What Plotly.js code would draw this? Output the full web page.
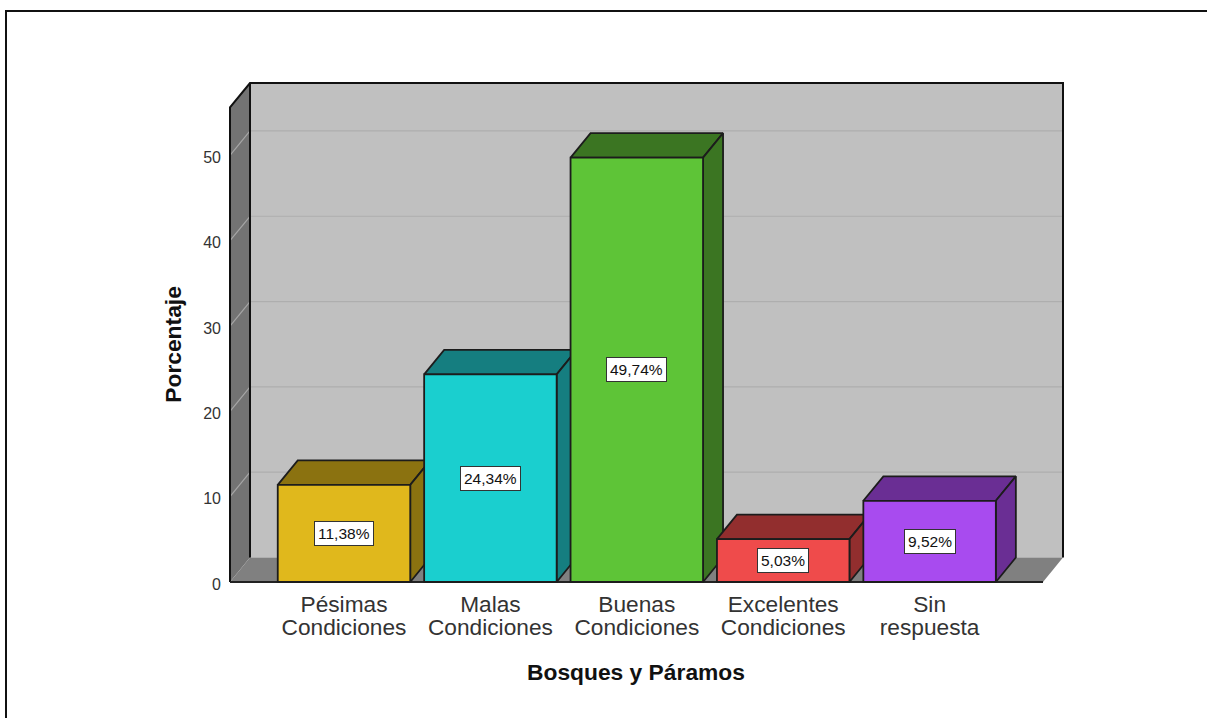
<!DOCTYPE html>
<html>
<head>
<meta charset="utf-8">
<script src="https://cdn.plot.ly/plotly-3.0.1.min.js"></script>
<style>
html,body{margin:0;padding:0;background:#fff;overflow:hidden}
#frame{position:absolute;left:5px;top:10px;right:0;bottom:0;border-top:2px solid #111;border-left:2px solid #111}
#chart{position:absolute;left:0;top:0;width:1207px;height:718px}
</style>
</head>
<body>
<div id="frame"></div>
<div id="chart"></div>
<script>
const categories = ['Pésimas<br>Condiciones', 'Malas<br>Condiciones', 'Buenas<br>Condiciones', 'Excelentes<br>Condiciones', 'Sin<br>respuesta'];
const percentages = [11.38, 24.34, 49.74, 5.03, 9.52];
const percentLabels = ['11,38%', '24,34%', '49,74%', '5,03%', '9,52%'];
const yTicks = [0, 10, 20, 30, 40, 50];
const frontColors = ['#E0B81C', '#1ACFCF', '#5EC437', '#EF4B4B', '#A84BEF'];
const faceColors = ['#8B7210', '#157E80', '#3B7522', '#922E2E', '#6A2E94'];
const xTitle = 'Bosques y Páramos';
const yTitle = 'Porcentaje';

const W = 1207, H = 718;
const L = 230, R = 1063, T = 83, B = 582.5;   // chart box drawn
const pad = 3;                                 // room so that edge lines are not clipped
const pL = L - pad, pR = R + pad, pT = T - pad, pB = B + pad;
const pxPerUnit = 8.54, pxPerCat = 146.4, firstCenter = 344;
const dx = 20 / pxPerCat, dy = 24.5 / pxPerUnit;
const xMin = (L - firstCenter) / pxPerCat, xMax = (R - firstCenter) / pxPerCat;
const yMax = (B - T) / pxPerUnit;
const xRange = [(pL - firstCenter) / pxPerCat, (pR - firstCenter) / pxPerCat];
const yRange = [(B - pB) / pxPerUnit, (B - pT) / pxPerUnit];
const barW = 0.905;
const edge = '#1c1c1c';
const font = 'Liberation Sans';

function poly(xs, ys, fill, lineColor, lineWidth) {
  return {type: 'scatter', mode: 'lines', x: xs.concat(xs[0]), y: ys.concat(ys[0]),
    fill: 'toself', fillcolor: fill, line: {color: lineColor || fill, width: lineWidth === undefined ? 1 : lineWidth},
    hoverinfo: 'skip', showlegend: false, xaxis: 'x', yaxis: 'y'};
}
function path(xs, ys, color, width) {
  return {type: 'scatter', mode: 'lines', x: xs, y: ys, line: {color: color, width: width},
    hoverinfo: 'skip', showlegend: false, xaxis: 'x', yaxis: 'y'};
}

const xF0 = xMin, xB0 = xMin + dx, xF1 = xMax - dx, xB1 = xMax;
const traces = [];
traces.push(poly([xB0, xB1, xB1, xB0], [dy, dy, yMax, yMax], '#C0C0C0', '#C0C0C0', 0));
traces.push(poly([xF0, xB0, xB0, xF0], [0, dy, yMax, yMax - dy], '#737373', '#737373', 0));
traces.push(poly([xF0, xF1, xB1, xB0], [0, 0, dy, dy], '#808080', '#808080', 0));
const gridTicks = yTicks.filter(v => v > 0);
gridTicks.forEach(v => {
  traces.push(path([xB0, xB1], [v + dy, v + dy], '#AEAEAE', 1.2));
  traces.push(path([xF0, xB0], [v, v + dy], '#A6A6A6', 1.2));
});
traces.push(path([xF0, xF0, xB0, xB1, xB1], [0, yMax - dy, yMax, yMax, dy], '#111', 2));
traces.push(path([xB0, xB0], [dy, yMax], '#111', 2));
traces.push(path([xF0, xF1], [0, 0], '#222', 2));

percentages.forEach((v, i) => {
  const x0 = i - barW / 2, x1 = i + barW / 2;
  traces.push(poly([x0, x1, x1 + dx, x0 + dx], [v, v, v + dy, v + dy], faceColors[i], edge, 1.8));
  traces.push(poly([x1, x1 + dx, x1 + dx, x1], [0, dy, v + dy, v], faceColors[i], edge, 1.8));
});
traces.push({type: 'bar', x: percentages.map((_, i) => i), y: percentages, width: barW,
  marker: {color: frontColors, line: {color: edge, width: 1.8}},
  hoverinfo: 'skip', showlegend: false, xaxis: 'x2', yaxis: 'y2'});

const annotations = [];
percentages.forEach((v, i) => {
  annotations.push({x: i, y: v / 2, xref: 'x', yref: 'y', text: percentLabels[i], showarrow: false,
    font: {family: font, size: 15.5, color: '#111'}, bgcolor: '#fff',
    bordercolor: '#333', borderwidth: 1, borderpad: 3});
});
annotations.push({x: (636 - pL) / (pR - pL), y: (pB - 673) / (pB - pT), xref: 'paper', yref: 'paper', xanchor: 'center', yanchor: 'middle',
  text: xTitle, showarrow: false, font: {family: font, size: 22.8, color: '#111', weight: 'bold'}});
annotations.push({x: (173 - pL) / (pR - pL), y: (pB - 345) / (pB - pT), xref: 'paper', yref: 'paper', xanchor: 'center', yanchor: 'middle',
  textangle: -90, text: yTitle, showarrow: false, font: {family: font, size: 22.8, color: '#111', weight: 'bold'}});

const layout = {
  width: W, height: H, autosize: false,
  margin: {l: pL, r: W - pR, t: pT, b: H - pB, pad: 0},
  paper_bgcolor: 'rgba(0,0,0,0)', plot_bgcolor: 'rgba(0,0,0,0)',
  showlegend: false, bargap: 0,
  xaxis: {range: xRange, tickmode: 'array', tickvals: categories.map((_, i) => i), ticktext: categories,
    showgrid: false, zeroline: false, showline: false, ticks: '', ticklabelstandoff: 3,
    tickfont: {family: font, size: 22.7, color: '#333'}},
  yaxis: {range: yRange, tickmode: 'array', tickvals: yTicks, ticktext: yTicks.map(String),
    showgrid: false, zeroline: false, showline: false, ticks: '', ticklabelstandoff: 5, ticklabelshift: 2,
    tickfont: {family: font, size: 16, color: '#333'}},
  xaxis2: {range: xRange, overlaying: 'x', visible: false, anchor: 'y2'},
  yaxis2: {range: yRange, overlaying: 'y', visible: false, anchor: 'x2'},
  annotations: annotations
};
Plotly.newPlot('chart', traces, layout, {displayModeBar: false, staticPlot: true}).then(() => {
  document.querySelectorAll('#chart .xtick text tspan.line').forEach(t => {
    if (t.getAttribute('dy') && t.getAttribute('dy') !== '0em') t.setAttribute('dy', '23px');
  });
});
</script>
</body>
</html>
